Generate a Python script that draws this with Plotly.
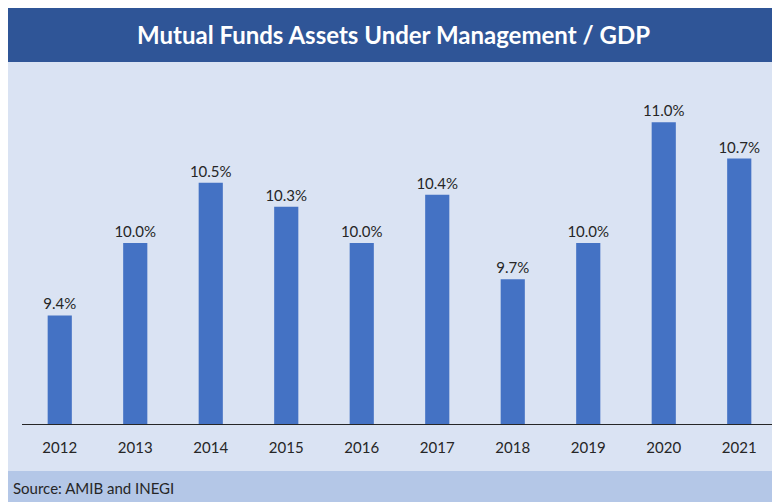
import plotly.graph_objects as go

years = ["2012", "2013", "2014", "2015", "2016", "2017", "2018", "2019", "2020", "2021"]
aum_gdp = [9.4, 10.0, 10.5, 10.3, 10.0, 10.4, 9.7, 10.0, 11.0, 10.7]

title_text = "Mutual Funds Assets Under Management / GDP"
source_text = "Source: AMIB and INEGI"

OFF = 8  # page body margin
W, H = 780 - OFF, 502 - OFF
# plot area in page pixels: x 22..777, y 62..424
L, R, T, B = 22 - OFF, 780 - 777, 62 - OFF, 502 - 424
pw = W - L - R
ph = H - T - B

def px_x(x):
    return (x - OFF - L) / pw

def px_y(y):
    return (H - B - (y - OFF)) / ph

FONT = "Lato, Open Sans, sans-serif"

fig = go.Figure()
fig.add_trace(go.Bar(
    x=years, y=aum_gdp,
    marker=dict(color="#4472C4", line=dict(width=0)),
    texttemplate="%{y:.1f}%",
    textposition="outside",
    constraintext="none",
    textfont=dict(family=FONT, size=15, color="#262626"),
    cliponaxis=False,
    hoverinfo="skip",
))

shapes = [
    dict(type="rect", xref="paper", yref="paper", layer="below",
         x0=px_x(7), x1=px_x(790), y0=px_y(471), y1=px_y(62),
         fillcolor="#DAE3F3", line=dict(width=0)),
    dict(type="rect", xref="paper", yref="paper", layer="below",
         x0=px_x(6), x1=px_x(790), y0=px_y(62), y1=px_y(0),
         fillcolor="#2F5597", line=dict(width=0)),
    dict(type="rect", xref="paper", yref="paper", layer="below",
         x0=px_x(8), x1=px_x(790), y0=px_y(510), y1=px_y(471),
         fillcolor="#B4C7E7", line=dict(width=0)),
]

annotations = [
    dict(text="<b>" + title_text + "</b>", xref="paper", yref="paper",
         x=px_x(393), y=px_y(35), xanchor="center", yanchor="middle",
         showarrow=False, font=dict(family=FONT, size=24, color="white")),
    dict(text=source_text, xref="paper", yref="paper",
         x=px_x(11), y=px_y(488), xanchor="left", yanchor="middle",
         showarrow=False, font=dict(family=FONT, size=15, color="#262626")),
]

fig.update_layout(
    width=W, height=H,
    margin=dict(l=L, r=R, t=T, b=B, autoexpand=False),
    paper_bgcolor="white",
    plot_bgcolor="rgba(0,0,0,0)",
    bargap=0.68,
    showlegend=False,
    shapes=shapes,
    annotations=annotations,
    xaxis=dict(showline=True, linecolor="#262626", linewidth=1,
               ticks="outside", ticklen=10, tickcolor="rgba(0,0,0,0)",
               tickfont=dict(family=FONT, size=15, color="#262626"),
               showgrid=False, fixedrange=True),
    yaxis=dict(range=[8.5, 11.5], visible=False, showgrid=False, zeroline=False, fixedrange=True),
)

fig.write_html("out.html")
